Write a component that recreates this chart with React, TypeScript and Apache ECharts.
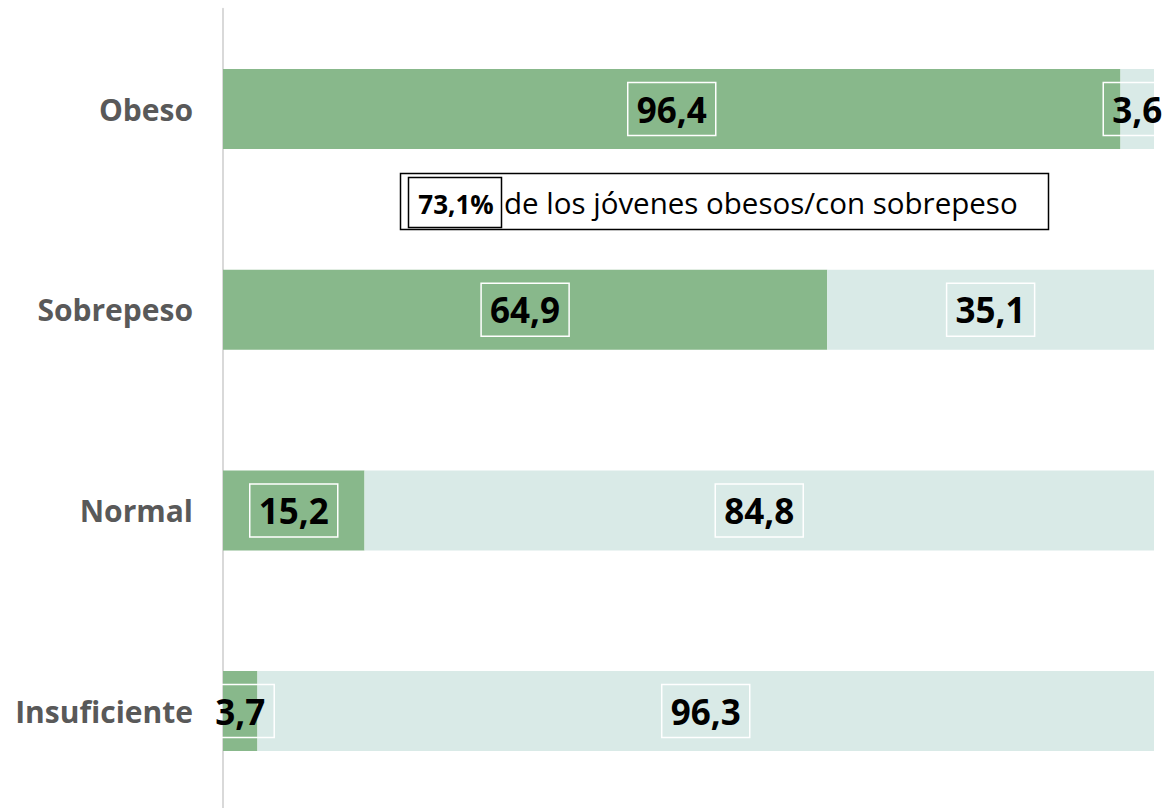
import React, { useEffect, useRef } from "react";
import * as echarts from "echarts";

const categories = ["Insuficiente", "Normal", "Sobrepeso", "Obeso"];
const seriesA = [3.7, 15.2, 64.9, 96.4];
const seriesB = [96.3, 84.8, 35.1, 3.6];
const annotationValue = "73,1%";
const annotationText = "de los jóvenes obesos/con sobrepeso";

const fmt = (v: number) => v.toFixed(1).replace(".", ",");

export default function App() {
  const ref = useRef<HTMLDivElement>(null);
  useEffect(() => {
    if (!ref.current) return;
    const chart = echarts.init(ref.current, null, { renderer: "svg" });
    const label = {
      show: true,
      position: "inside",
      formatter: (p: any) => fmt(p.value),
      color: "#000",
      fontFamily: "Open Sans",
      fontWeight: "bold",
      fontSize: 35,
      lineHeight: 41,
      borderColor: "#ffffff",
      borderWidth: 1.5,
      padding: [7, 9, 5, 9],
    };
    chart.setOption({
      animation: false,
      grid: { left: 223, right: 10, top: 8.7, height: 802.7, containLabel: false },
      xAxis: {
        type: "value",
        min: 0,
        max: 100,
        show: false,
      },
      yAxis: {
        type: "category",
        data: categories,
        axisLine: { show: true, lineStyle: { color: "#d9d9d9", width: 2 } },
        axisTick: { show: false },
        axisLabel: {
          color: "#595959",
          fontFamily: "Open Sans",
          fontWeight: "bold",
          fontSize: 30,
          margin: 30,
        },
        splitLine: { show: false },
      },
      series: [
        {
          type: "bar",
          stack: "t",
          data: seriesA,
          barWidth: 80,
          itemStyle: { color: "#88b88b" },
          label,
        },
        {
          type: "bar",
          stack: "t",
          data: seriesB,
          barWidth: 80,
          itemStyle: { color: "#d9eae7" },
          label,
        },
      ],
      graphic: [
        {
          type: "rect",
          shape: { x: 400.5, y: 173.5, width: 648, height: 56 },
          style: { fill: "#fff", stroke: "#000", lineWidth: 1.5 },
        },
        {
          type: "rect",
          shape: { x: 408.5, y: 177.5, width: 93, height: 50 },
          style: { fill: "#fff", stroke: "#000", lineWidth: 1.5 },
        },
        {
          type: "text",
          x: 456,
          y: 204,
          style: {
            text: annotationValue,
            fontFamily: "Open Sans",
            fontWeight: "bold",
            fontSize: 26,
            fill: "#000",
            align: "center",
            verticalAlign: "middle",
          },
        },
        {
          type: "text",
          x: 504,
          y: 202,
          style: {
            text: annotationText,
            fontFamily: "Open Sans",
            fontSize: 29.5,
            fill: "#000",
            align: "left",
            verticalAlign: "middle",
          },
        },
      ],
    });
    return () => chart.dispose();
  }, []);
  return (
    <div
      style={{
        position: "fixed",
        left: 0,
        top: 0,
        width: 1164,
        height: 808,
        overflow: "hidden",
        background: "#fff",
      }}
    >
      <div ref={ref} style={{ width: 1164, height: 816 }} />
    </div>
  );
}
